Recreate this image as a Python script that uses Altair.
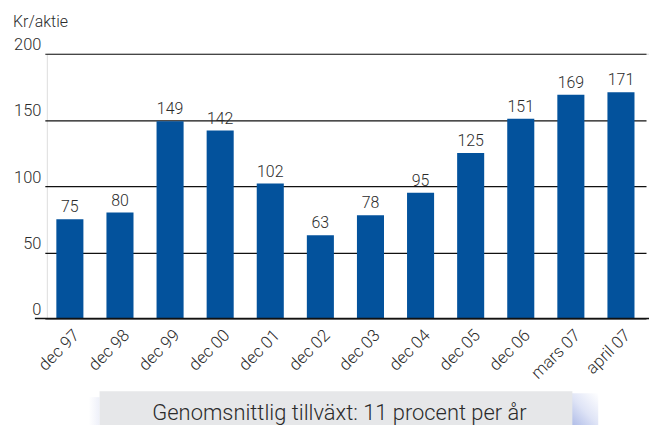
import altair as alt
import pandas as pd

categories = ["dec 97", "dec 98", "dec 99", "dec 00", "dec 01", "dec 02",
              "dec 03", "dec 04", "dec 05", "dec 06", "mars 07", "april 07"]
values = [75, 80, 149, 142, 102, 63, 78, 95, 125, 151, 169, 171]
y_ticks = [0, 50, 100, 150, 200]
unit_label = "Kr/aktie"
note = "Genomsnittlig tillväxt: 11 procent per år"

FONT = "Roboto"
FW = 300
BAR = "#03529c"
TXT = "#2b2b2b"

df = pd.DataFrame({"cat": categories, "val": values})

W, H = 605, 266

xscale = alt.Scale(domain=categories, range=[-2, 602], paddingInner=0.46, paddingOuter=0.23)
yscale = alt.Scale(domain=[0, 200], nice=False)

base = alt.Chart(df)

bars = base.mark_bar(color=BAR).encode(
    x=alt.X("cat:N", sort=categories, scale=xscale,
            axis=alt.Axis(title=None, labelAngle=-45, labelAlign="right", labelBaseline="middle",
                          labelFont=FONT, labelFontWeight=FW, labelFontSize=17, labelColor=TXT,
                          ticks=False, domain=False, labelPadding=14, labelOffset=7)),
    y=alt.Y("val:Q", scale=yscale,
            axis=alt.Axis(title=None, values=y_ticks, grid=True, gridColor="#111111",
                          gridWidth=1.2, ticks=False, domain=False, labelFont=FONT,
                          labelFontWeight=FW, labelFontSize=16.5, labelColor=TXT,
                          labelBaseline="bottom", labelPadding=6, labelOffset=-1)),
)

labels = base.mark_text(font=FONT, fontWeight=FW, fontSize=16, color=TXT, baseline="bottom", dy=-4).encode(
    x=alt.X("cat:N", sort=categories, scale=xscale),
    y=alt.Y("val:Q", scale=yscale),
    text=alt.Text("val:Q"),
)

baseline = alt.Chart(pd.DataFrame({"v": [0]})).mark_rule(color="#111111", strokeWidth=1.5).encode(
    y=alt.Y("v:Q", scale=yscale), x=alt.value(-12), x2=alt.value(W)
)

unit = alt.Chart(pd.DataFrame({"t": [unit_label]})).mark_text(
    font=FONT, fontWeight=FW, fontSize=16, color=TXT, align="left", baseline="alphabetic"
).encode(text="t:N", x=alt.value(-34), y=alt.value(-27))

shadow_r = alt.Chart(pd.DataFrame({"a": [0]})).mark_rect(
    color=alt.LinearGradient(gradient="linear", x1=0, x2=1, y1=1, y2=0,
                             stops=[alt.GradientStop(color="#a9b7e6", offset=0),
                                    alt.GradientStop(color="#dfe4f6", offset=0.5),
                                    alt.GradientStop(color="#ffffff", offset=1)])
).encode(x=alt.value(524), x2=alt.value(554), y=alt.value(341), y2=alt.value(373))

shadow_l = alt.Chart(pd.DataFrame({"a": [0]})).mark_rect(
    color=alt.LinearGradient(gradient="linear", x1=0, x2=1, y1=0, y2=0,
                             stops=[alt.GradientStop(color="#ffffff", offset=0),
                                    alt.GradientStop(color="#eef0f9", offset=1)])
).encode(x=alt.value(42), x2=alt.value(53), y=alt.value(345), y2=alt.value(373))

box = alt.Chart(pd.DataFrame({"a": [0]})).mark_rect(color="#e6e7e9").encode(
    x=alt.value(53), x2=alt.value(528), y=alt.value(339), y2=alt.value(373)
)

note_text = alt.Chart(pd.DataFrame({"t": [note]})).mark_text(
    font=FONT, fontWeight=FW, fontSize=22, color=TXT, align="center", baseline="alphabetic"
).encode(text="t:N", x=alt.value(294), y=alt.value(368))

chart = alt.layer(bars, baseline, labels, unit, shadow_r, shadow_l, box, note_text).properties(
    width=W, height=H, autosize=alt.AutoSizeParams(type="none"),
    padding={"left": 39, "top": 45, "right": 0, "bottom": 107}
).configure_view(stroke=None).configure(background="white")

chart.save("out.html", embed_options={"renderer": "svg", "actions": False})
